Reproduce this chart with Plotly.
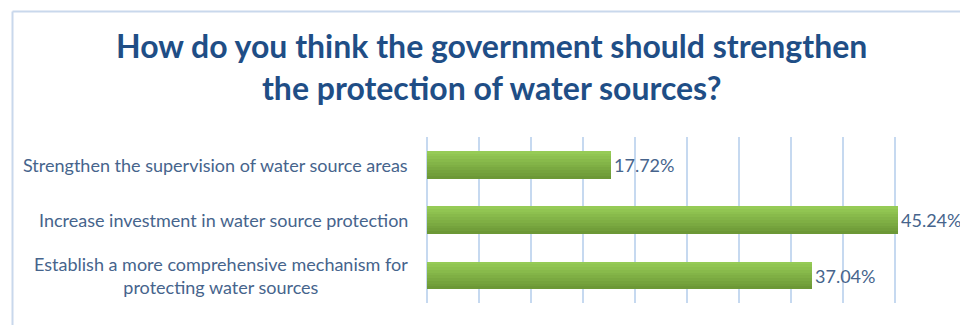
import plotly.graph_objects as go

categories = [
    "Strengthen the supervision of water source areas",
    "Increase investment in water source protection",
    "Establish a more comprehensive mechanism for<br>protecting water sources",
]
values = [17.72, 45.24, 37.04]
value_labels = ["17.72%", "45.24%", "37.04%"]
title_text = "How do you think the government should strengthen<br>the protection of water sources?"

# the page body has an 8px margin, so the figure is offset by 8px
OFF = 8
W, H = 968 - OFF, 325 - OFF
L, T = 427 - OFF, 137 - OFF
R, B = W - (947 - OFF), H - (303 - OFF)
pw, ph = W - L - R, H - T - B

FONT = "Lato, Calibri, sans-serif"
LABEL_COLOR = "#46648C"
TITLE_COLOR = "#1F4E86"
GRID = "#C6D9F0"


def px_x(x):
    return (x - OFF - L) / pw


def px_y(y):
    return (H - B - (y - OFF)) / ph


fig = go.Figure()

# base bar with data labels
fig.add_trace(go.Bar(
    y=categories, x=values, orientation="h", width=0.5,
    marker=dict(color="#82B84A", line=dict(width=0)),
    text=value_labels, textposition="outside", cliponaxis=False,
    textfont=dict(family=FONT, size=18, color=LABEL_COLOR),
    hoverinfo="skip", showlegend=False,
))

# gradient strips (top light -> bottom dark)
n = 10
top = (150, 203, 86)
bot = (108, 152, 54)
for i in range(n):
    t = i / (n - 1)
    c = tuple(round(top[k] + (bot[k] - top[k]) * t) for k in range(3))
    fig.add_trace(go.Bar(
        y=categories, x=values, orientation="h",
        width=0.5 / n, offset=-0.25 + i * 0.5 / n,
        marker=dict(color="rgb(%d,%d,%d)" % c, line=dict(width=0)),
        hoverinfo="skip", showlegend=False,
    ))

# category labels as centered annotations
for cat in categories:
    fig.add_annotation(
        x=0, xref="paper", y=cat, yref="y", xanchor="right", xshift=-17,
        text=cat, showarrow=False, align="center",
        font=dict(family=FONT, size=18, color=LABEL_COLOR),
    )

# title
fig.add_annotation(
    x=px_x(491), xref="paper", y=px_y(24), yref="paper",
    xanchor="center", yanchor="top", showarrow=False, align="center",
    text=title_text,
    font=dict(family=FONT, size=32, color=TITLE_COLOR, weight="bold"),
)

# chart border (left and top)
fig.add_shape(type="line", xref="paper", yref="paper",
              x0=px_x(12.5), x1=px_x(12.5), y0=px_y(330), y1=px_y(11.5),
              line=dict(color="#C9D8EC", width=2))
fig.add_shape(type="line", xref="paper", yref="paper",
              x0=px_x(12.5), x1=px_x(968), y0=px_y(11.5), y1=px_y(11.5),
              line=dict(color="#C9D8EC", width=2))

fig.update_layout(
    width=W, height=H,
    margin=dict(l=L, r=R, t=T, b=B),
    paper_bgcolor="white", plot_bgcolor="white",
    barmode="overlay", bargap=0,
    xaxis=dict(range=[0, 50], dtick=5, showticklabels=False, showgrid=True,
               gridcolor=GRID, gridwidth=1.5, zeroline=True, zerolinecolor=GRID,
               zerolinewidth=1.5, showline=False, fixedrange=True),
    yaxis=dict(autorange="reversed", showticklabels=False, showgrid=False,
               zeroline=False, showline=False, categoryorder="array",
               categoryarray=categories),
    showlegend=False,
)

fig.write_html("out.html")
